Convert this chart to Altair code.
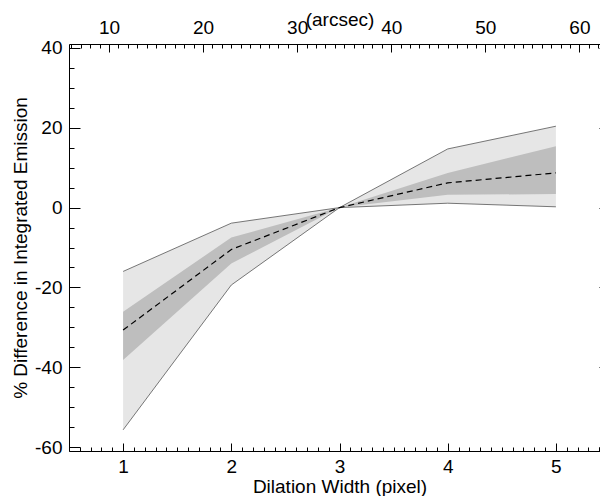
import altair as alt
import pandas as pd

# ---- data ----
DILATION = [1, 2, 3, 4, 5]                       # dilation width (pixel)
MEAN     = [-30.7, -10.5, 0.0, 6.2, 8.7]        # dashed line
INNER_LO = [-38.2, -14.0, 0.0, 3.2, 3.4]        # dark band
INNER_HI = [-26.1, -7.5, 0.0, 8.7, 15.4]
OUTER_LO = [-55.7, -19.4, 0.0, 1.1, 0.2]        # light band
OUTER_HI = [-16.0, -3.9, 0.0, 14.7, 20.4]

X_MAJOR = [1, 2, 3, 4, 5]
Y_MAJOR = [-60, -40, -20, 0, 20, 40]
ARCSEC_MAJOR = [10, 20, 30, 40, 50, 60]
ARCSEC_PER_PIXEL = 11.5

X_DOM = [0.5, 5.5]
Y_DOM = [-61, 41]

X_MINOR = [round(0.5 + 0.1 * i, 2) for i in range(51) if abs((0.5 + 0.1 * i) - round(0.5 + 0.1 * i)) > 1e-6]
Y_MINOR = [v for v in range(-60, 41, 5) if v % 20 != 0]
ARCSEC_MINOR = [a for a in range(6, 64) if a % 10 != 0]

W, H = 541, 407
FONT = "Liberation Sans"
FS = 19

df = pd.DataFrame({
    "px": DILATION, "mean": MEAN,
    "ilo": INNER_LO, "ihi": INNER_HI,
    "olo": OUTER_LO, "ohi": OUTER_HI,
})

xscale = alt.Scale(domain=X_DOM, nice=False, zero=False)
yscale = alt.Scale(domain=Y_DOM, nice=False, zero=False)

common = dict(domain=False, grid=False, tickColor="black", tickWidth=1,
              labelFont=FONT, labelFontSize=FS, labelColor="black",
              labelFlush=False, labelOverlap=False,
              titleFont=FONT, titleFontSize=FS, titleFontWeight="normal",
              titleColor="black")

ax_b_major = alt.Axis(orient="bottom", values=X_MAJOR, tickSize=8, offset=-8,
                      labelPadding=6, labelExpr="'' + datum.value",
                      title="Dilation Width (pixel)", titleY=43,
                      titleBaseline="middle", **common)
ax_b_minor = alt.Axis(orient="bottom", values=X_MINOR, tickSize=4, offset=-4,
                      labels=False, title="", **common)
ax_t_major = alt.Axis(orient="top", values=[a / ARCSEC_PER_PIXEL for a in ARCSEC_MAJOR],
                      tickSize=8, offset=-8, labelPadding=7,
                      labelExpr="'' + round(datum.value * %s)" % ARCSEC_PER_PIXEL,
                      title="(arcsec)", titleY=-33, titleBaseline="middle", **common)
ax_t_minor = alt.Axis(orient="top", values=[a / ARCSEC_PER_PIXEL for a in ARCSEC_MINOR],
                      tickSize=4, offset=-4, labels=False, title="", **common)

ay_l_major = alt.Axis(orient="left", values=Y_MAJOR, tickSize=11, offset=-11,
                      labelPadding=7, labelExpr="'' + datum.value",
                      title="% Difference in Integrated Emission", titleX=-60,
                      titleBaseline="middle", **common)
ay_l_minor = alt.Axis(orient="left", values=Y_MINOR, tickSize=5, offset=-5,
                      labels=False, title="", **common)
ay_r_major = alt.Axis(orient="right", values=Y_MAJOR, tickSize=11, offset=-11,
                      labels=False, title="", **common)
ay_r_minor = alt.Axis(orient="right", values=Y_MINOR, tickSize=5, offset=-5,
                      labels=False, title="", **common)

base = alt.Chart(df)

outer = base.mark_area(color="#e6e6e6", opacity=1).encode(
    x=alt.X("px:Q", scale=xscale, axis=ax_b_major),
    y=alt.Y("olo:Q", scale=yscale, axis=ay_l_major),
    y2="ohi:Q",
)
inner = base.mark_area(color="#bebebe", opacity=1).encode(
    x=alt.X("px:Q", scale=xscale, axis=ax_b_minor),
    y=alt.Y("ilo:Q", scale=yscale, axis=ay_l_minor),
    y2="ihi:Q",
)
upper = base.mark_line(color="#555555", strokeWidth=0.8).encode(
    x=alt.X("px:Q", scale=xscale, axis=ax_t_major),
    y=alt.Y("ohi:Q", scale=yscale, axis=ay_r_major),
)
lower = base.mark_line(color="#555555", strokeWidth=0.8).encode(
    x=alt.X("px:Q", scale=xscale, axis=ax_t_minor),
    y=alt.Y("olo:Q", scale=yscale, axis=ay_r_minor),
)
mean = base.mark_line(color="black", strokeWidth=1.2, strokeDash=[6, 4]).encode(
    x=alt.X("px:Q", scale=xscale, axis=None),
    y=alt.Y("mean:Q", scale=yscale, axis=None),
)

chart = alt.layer(outer, inner, upper, lower, mean).resolve_axis(
    x="independent", y="independent"
).properties(
    width=W, height=H,
    autosize=alt.AutoSizeParams(type="none"),
    padding={"left": 61, "top": 36, "right": -10, "bottom": 45},
    background="white",
).configure_view(stroke="black", strokeWidth=1)

chart.save("out.html", embed_options={"renderer": "svg", "actions": False})
